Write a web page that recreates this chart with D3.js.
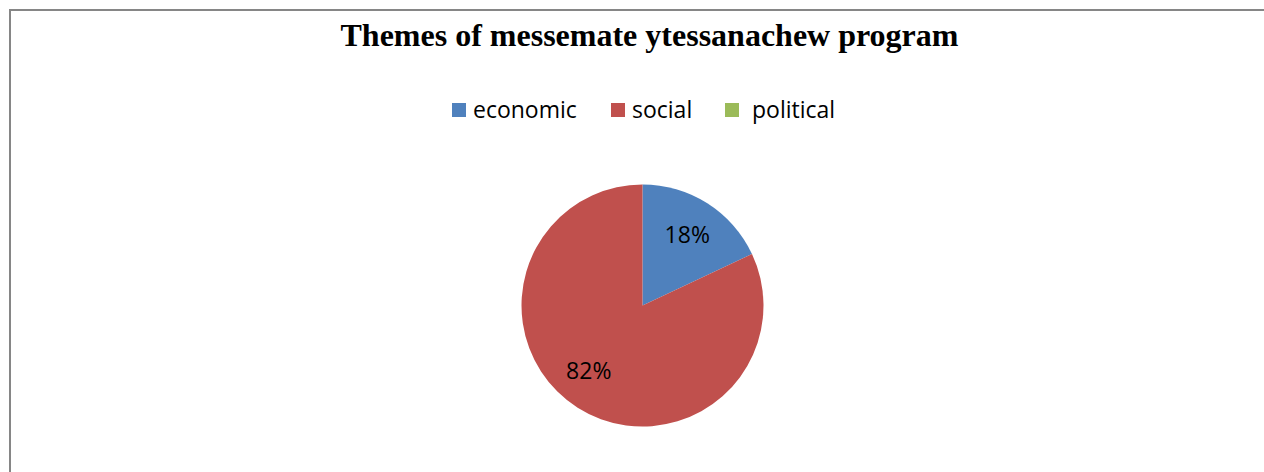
<!DOCTYPE html>
<html><head><meta charset="utf-8">
<script src="https://cdn.jsdelivr.net/npm/d3@7"></script>
<style>html,body{margin:0;padding:0;background:#fff;}</style>
</head><body>
<svg id="chart" width="1264" height="472"></svg>
<script>
const titleText = "Themes of messemate ytessanachew program";
const categories = ["economic", "social", "political"];
const values = [18, 82, 0];
const colors = ["#4F81BD", "#C0504D", "#9BBB59"];

const svg = d3.select("#chart");
const W = 1264, H = 472;
svg.append("rect").attr("x", 0).attr("y", 0).attr("width", W).attr("height", H).attr("fill", "#fff");
// chart area border (extends beyond view on right/bottom)
svg.append("rect").attr("x", 10).attr("y", 10).attr("width", 1300).attr("height", 520)
  .attr("fill", "#fff").attr("stroke", "#868686").attr("stroke-width", 2);

svg.append("text").attr("x", 649.5).attr("y", 46).attr("text-anchor", "middle")
  .attr("font-family", "'Liberation Serif', 'Times New Roman', serif").attr("font-weight", "bold")
  .attr("font-size", 32).attr("fill", "#000").text(titleText);

// legend
const legendX = [452, 611, 725];
const legend = svg.append("g");
categories.forEach((c, i) => {
  const g = legend.append("g").attr("transform", `translate(${legendX[i]},103)`);
  g.append("rect").attr("width", 14).attr("height", 14).attr("fill", colors[i]);
  g.append("text").attr("x", i === 2 ? 27 : 21).attr("y", 15)
    .attr("font-family", "'Open Sans', 'Noto Sans', sans-serif").attr("font-size", 23)
    .attr("fill", "#000").text(c);
});

// pie
const cx = 642.5, cy = 305.5, r = 121;
const pie = d3.pie().sort(null).value(d => d.v);
const data = pie(categories.map((c, i) => ({ c, v: values[i], col: colors[i] })));
const arc = d3.arc().innerRadius(0).outerRadius(r);
const labelArc = d3.arc().innerRadius(r * 0.69).outerRadius(r * 0.69);
const g = svg.append("g").attr("transform", `translate(${cx},${cy})`);
g.selectAll("path").data(data).join("path")
  .attr("d", arc).attr("fill", d => d.data.col);
g.selectAll("text").data(data.filter(d => d.data.v > 0)).join("text")
  .attr("transform", d => {
    const [x, y] = labelArc.centroid(d);
    // best-fit style: the large slice label sits a bit further round
    return d.data.v > 50 ? `translate(${x - 9},${y - 5})` : `translate(${x},${y})`;
  })
  .attr("text-anchor", "middle").attr("dy", "0.36em")
  .attr("font-family", "'Open Sans', 'Noto Sans', sans-serif").attr("font-size", 23)
  .attr("fill", "#000")
  .text(d => d.data.v + "%");
</script>
</body></html>
